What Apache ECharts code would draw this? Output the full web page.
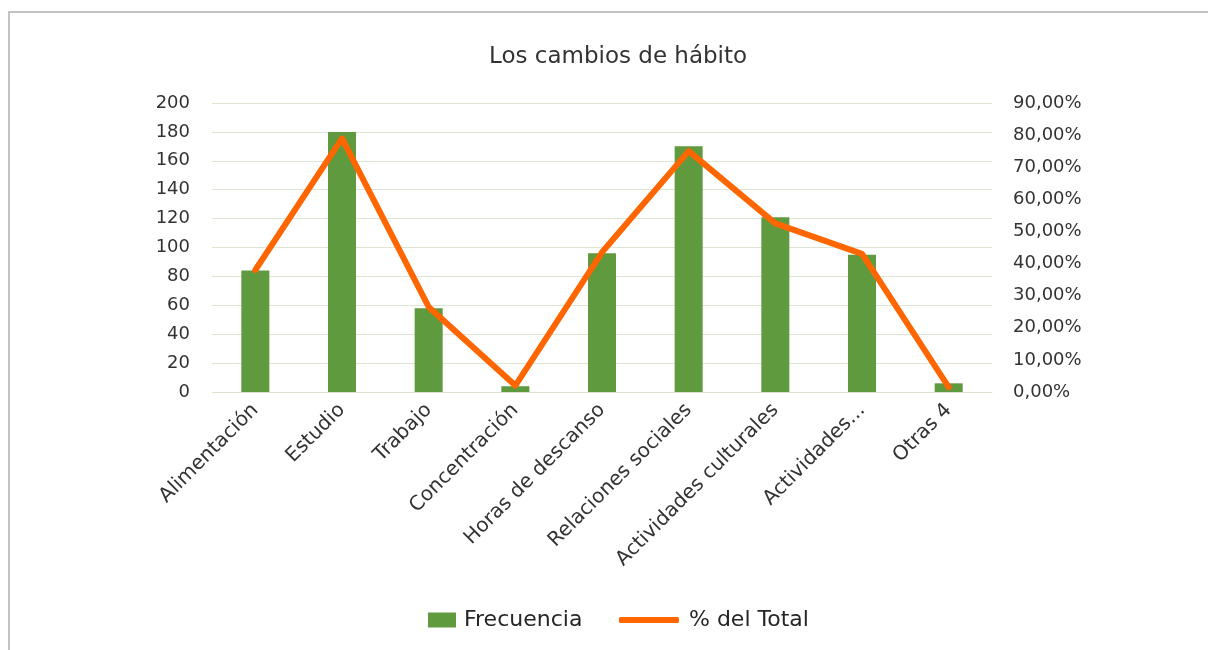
<!DOCTYPE html>
<html>
<head>
<meta charset="utf-8">
<script src="https://cdn.jsdelivr.net/npm/echarts@6/dist/echarts.min.js"></script>
<style>
  html, body { margin: 0; padding: 0; background: #fff; }
  #chart { width: 1208px; height: 650px; }
  .frame {
    position: absolute; left: 8px; top: 11px; width: 1400px; height: 800px;
    border: 2px solid #c3c3c3; pointer-events: none;
  }
</style>
</head>
<body>
<div id="chart"></div>
<div class="frame"></div>
<script>
// categorías y valores
const categories = ['Alimentación', 'Estudio', 'Trabajo', 'Concentración', 'Horas de descanso',
  'Relaciones sociales', 'Actividades culturales', 'Actividades...', 'Otras 4']
const frecuencia = [84, 180, 58, 4, 96, 170, 121, 95, 6]
const porcentaje = [38, 79, 26.5, 2, 43.5, 75, 52.5, 43, 1.5]

const leftTicks = { min: 0, max: 200, interval: 20 }
const rightTicks = { min: 0, max: 90, interval: 10 }

const FONT = 'DejaVu Sans'
const textColor = '#333333'

const chart = echarts.init(document.getElementById('chart'))

const option = {
  animation: false,
  textStyle: { fontFamily: FONT },
  title: {
    text: 'Los cambios de hábito',
    left: 484,
    top: 41,
    textStyle: { fontFamily: FONT, fontSize: 23, fontWeight: 'normal', color: textColor },
  },
  legend: [
    {
      data: ['Frecuencia'],
      left: 423,
      top: 604,
      itemWidth: 28,
      itemHeight: 15,
      icon: 'rect',
      textStyle: { fontFamily: FONT, fontSize: 22, color: '#262626', padding: [0, 0, 0, 3] },
    },
    {
      data: ['% del Total'],
      left: 614,
      top: 604,
      itemWidth: 60,
      itemHeight: 6,
      icon: 'roundRect',
      textStyle: { fontFamily: FONT, fontSize: 22, color: '#262626', padding: [0, 0, 0, 5] },
    },
  ],
  grid: { left: 212, right: 216, top: 103, bottom: 258, containLabel: false },
  xAxis: {
    type: 'category',
    data: categories,
    axisLine: { lineStyle: { color: '#d9e3d0', width: 1 } },
    axisTick: { show: false },
    axisLabel: { rotate: 45, fontSize: 20, color: textColor, margin: 15, interval: 0 },
  },
  yAxis: [
    {
      type: 'value',
      ...leftTicks,
      axisLine: { show: false },
      axisTick: { show: false },
      splitLine: { lineStyle: { color: '#dde6d5', width: 1 } },
      axisLabel: { fontSize: 18, color: textColor, margin: 22 },
    },
    {
      type: 'value',
      ...rightTicks,
      axisLine: { show: false },
      axisTick: { show: false },
      splitLine: { show: false },
      axisLabel: {
        fontSize: 18,
        color: textColor,
        margin: 21,
        formatter: (v) => v.toFixed(2).replace('.', ',') + '%',
      },
    },
  ],
  series: [
    {
      name: 'Frecuencia',
      type: 'bar',
      data: frecuencia,
      barWidth: 28,
      itemStyle: { color: '#5f9a3f' },
    },
    {
      name: '% del Total',
      type: 'line',
      yAxisIndex: 1,
      data: porcentaje,
      symbol: 'none',
      lineStyle: { color: '#ff6600', width: 6, cap: 'round', join: 'round' },
      itemStyle: { color: '#ff6600' },
    },
  ],
}

chart.setOption(option)
</script>
</body>
</html>
